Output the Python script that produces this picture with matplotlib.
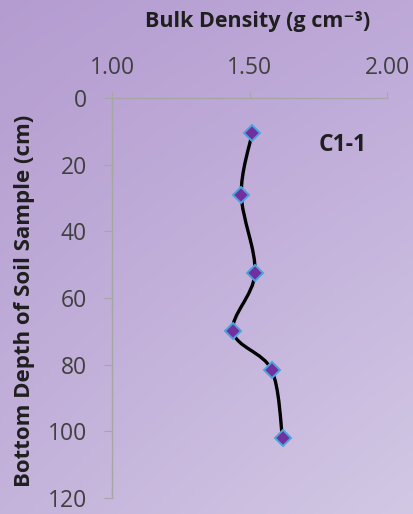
import numpy as np
import matplotlib
matplotlib.use("Agg")
import matplotlib.pyplot as plt
from matplotlib.path import Path
from matplotlib.patches import PathPatch
from matplotlib.transforms import IdentityTransform

plt.rcParams['font.family'] = ['Open Sans', 'DejaVu Sans']

# bulk density profile for core C1-1
depth_cm = [10.5, 29, 52.5, 70, 81.5, 102]
bulk_density = [1.51, 1.47, 1.52, 1.44, 1.58, 1.62]
x_ticks = [1.00, 1.50, 2.00]
y_ticks = [0, 20, 40, 60, 80, 100, 120]

W, H = 413, 514
fig = plt.figure(figsize=(W / 100, H / 100), dpi=100)

# purple gradient backdrop
bg = fig.add_axes([0, 0, 1, 1], zorder=-10)
tl = np.array([180, 156, 208]) / 255
tr = np.array([189, 168, 216]) / 255
bl = np.array([196, 179, 219]) / 255
br = np.array([210, 200, 228]) / 255
u = np.linspace(0, 1, 200)[None, :, None]
v = np.linspace(0, 1, 250)[:, None, None]
grad = (1 - v) * ((1 - u) * tl + u * tr) + v * ((1 - u) * bl + u * br)
bg.imshow(grad, aspect='auto', extent=[0, 1, 0, 1])
bg.axis('off')

ax = fig.add_axes([112 / W, 1 - 498 / H, 275 / W, 400 / H])
ax.patch.set_alpha(0)
ax.set_xlim(1.0, 2.0)
ax.set_ylim(120, 0)
ax.xaxis.tick_top()
ax.set_xticks(x_ticks)
ax.set_xticklabels([f"{t:.2f}" for t in x_ticks])
ax.set_yticks(y_ticks)
for side in ['right', 'bottom']:
    ax.spines[side].set_visible(False)
for side in ['left', 'top']:
    ax.spines[side].set_color('#a6a6a6')
    ax.spines[side].set_linewidth(1.0)
ax.tick_params(axis='x', direction='out', length=4, color='#a6a6a6',
               labelsize=16.5, labelcolor='#404040', pad=9)
ax.tick_params(axis='y', direction='out', length=6, color='#a6a6a6',
               labelsize=16.5, labelcolor='#404040', pad=12)

fig.text(258 / W, 1 - 21 / H, 'Bulk Density (g cm\u207b\u00b3)', fontsize=15.5,
         fontweight='bold', color='#1f1f1f', ha='center', va='center')
fig.text(25 / W, 1 - 301 / H, 'Bottom Depth of Soil Sample (cm)', fontsize=16,
         fontweight='bold', color='#1f1f1f', ha='center', va='center',
         rotation=90)

# smoothed line through the samples (Catmull-Rom as cubic Beziers, in pixel space)
pts = ax.transData.transform(np.column_stack([bulk_density, depth_cm]))
verts = [pts[0]]
codes = [Path.MOVETO]
n = len(pts)
for i in range(n - 1):
    p0 = pts[max(i - 1, 0)]
    p1 = pts[i]
    p2 = pts[i + 1]
    p3 = pts[min(i + 2, n - 1)]
    c1 = p1 + (p2 - p0) / 6
    c2 = p2 - (p3 - p1) / 6
    verts += [c1, c2, p2]
    codes += [Path.CURVE4] * 3
ax.add_artist(PathPatch(Path(verts, codes), transform=IdentityTransform(),
                        facecolor='none', edgecolor='black', lw=2.4,
                        capstyle='round', joinstyle='round', zorder=3))

ax.plot(bulk_density, depth_cm, linestyle='none', marker='D', markersize=8,
        markerfacecolor='#7030a0', markeredgecolor='#4da3dc',
        markeredgewidth=1.4, zorder=4)

ax.text(343 / W, 1 - 145 / H, 'C1-1', transform=fig.transFigure,
        fontsize=16.5, fontweight='bold', color='#1f1f1f',
        ha='center', va='center')

fig.savefig('out.png', dpi=100)
